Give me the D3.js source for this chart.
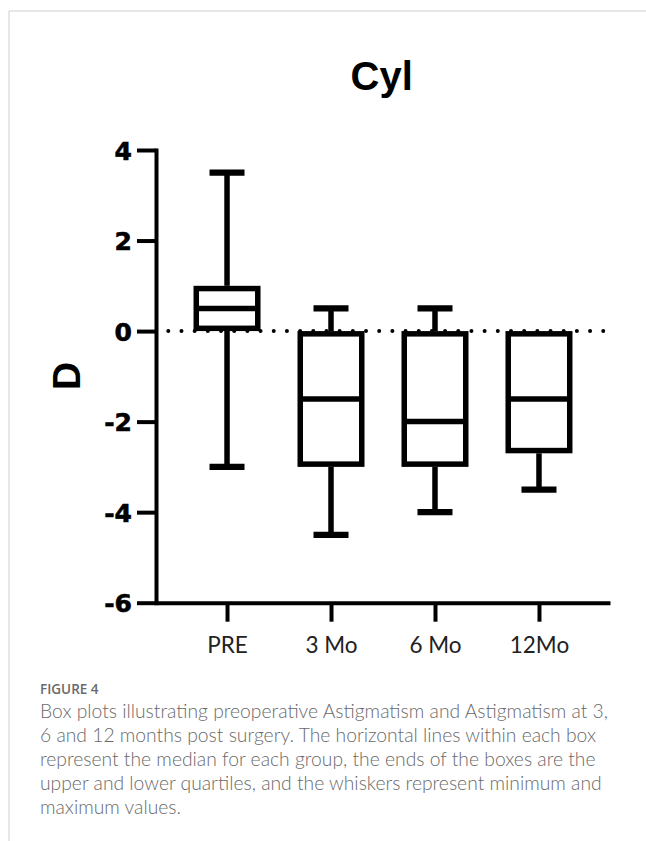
<!DOCTYPE html>
<html>
<head>
<meta charset="utf-8">
<script src="https://cdn.jsdelivr.net/npm/d3@7"></script>
<style>
  body { margin: 0; background: #fff; }
  svg { display: block; }
</style>
</head>
<body>
<div id="chart"></div>
<script>
// box plot values
const categories = ["PRE", "3 Mo", "6 Mo", "12Mo"];
const minVals = [-3, -4.5, -4, -3.5];
const q1Vals = [0, -3, -3, -2.7];
const medianVals = [0.5, -1.5, -2, -1.5];
const q3Vals = [1, 0, 0, 0];
const maxVals = [3.5, 0.5, 0.5, 0];
const yTicks = [-6, -4, -2, 0, 2, 4];

const captionLines = [
  "Box plots illustrating preoperative Astigmatism and Astigmatism at 3,",
  "6 and 12 months post surgery. The horizontal lines within each box",
  "represent the median for each group, the ends of the boxes are the",
  "upper and lower quartiles, and the whiskers represent minimum and",
  "maximum values."
];

const boxes = categories.map((c, i) => ({
  cat: c, min: minVals[i], q1: q1Vals[i], med: medianVals[i], q3: q3Vals[i], max: maxVals[i]
}));

const W = 646, H = 841;
const svg = d3.select("#chart").append("svg")
  .attr("width", W)
  .attr("height", H);

// page frame
svg.append("line").attr("x1", 9).attr("x2", W).attr("y1", 11).attr("y2", 11)
  .attr("stroke", "#cfcfcf").attr("stroke-width", 1);
svg.append("line").attr("x1", 9).attr("x2", 9).attr("y1", 11).attr("y2", H)
  .attr("stroke", "#cfcfcf").attr("stroke-width", 1);

const xScale = d3.scalePoint()
  .domain(categories)
  .range([156, 610])
  .padding(0.683)
  .align(0.5);

const yScale = d3.scaleLinear()
  .domain([-6, 4])
  .range([602.7, 150]);

const sw = 5.5;       // stroke width of boxes & whiskers
const boxW = 61.5;
const capW = 35;

// title
svg.append("text")
  .attr("x", 381.7)
  .attr("y", 90)
  .attr("text-anchor", "middle")
  .style("font-family", "'Liberation Sans', Arial, sans-serif")
  .style("font-weight", "bold")
  .style("font-size", "40px")
  .text("Cyl");

// y-axis label
svg.append("text")
  .attr("transform", "translate(80,376) rotate(-90)")
  .attr("text-anchor", "middle")
  .style("font-family", "'Liberation Sans', Arial, sans-serif")
  .style("font-weight", "bold")
  .style("font-size", "39px")
  .text("D");

// zero reference line (dotted)
svg.append("line")
  .attr("x1", 168.3)
  .attr("x2", 604)
  .attr("y1", yScale(0))
  .attr("y2", yScale(0))
  .attr("stroke", "#000")
  .attr("stroke-width", 4)
  .attr("stroke-linecap", "round")
  .attr("stroke-dasharray", "0 13.18");

// Y axis (plain hyphen for negatives, as in the original)
const yAxis = svg.append("g")
  .attr("transform", "translate(156,0)")
  .call(d3.axisLeft(yScale)
    .tickValues(yTicks)
    .tickFormat(d => String(d))
    .tickSize(19).tickSizeOuter(0).tickPadding(5));
yAxis.select(".domain").attr("stroke-width", 4).attr("stroke-linecap", "square");
yAxis.selectAll(".tick line").attr("stroke-width", 4);
yAxis.selectAll(".tick text")
  .attr("dy", "0.36em")
  .style("font-family", "'DejaVu Sans', sans-serif")
  .style("font-weight", "bold")
  .style("font-size", "25px")
  .attr("fill", "#000")
  .attr("stroke", "#000")
  .attr("stroke-width", 0.6);

// X axis
const xAxis = svg.append("g")
  .attr("transform", `translate(0,${yScale(-6)})`)
  .call(d3.axisBottom(xScale).tickSize(19).tickSizeOuter(0));
xAxis.select(".domain").attr("stroke-width", 4);
xAxis.selectAll(".tick line").attr("stroke-width", 4);
xAxis.selectAll(".tick text")
  .attr("y", 50)
  .attr("dy", 0)
  .style("font-family", "Lato, 'Open Sans', sans-serif")
  .style("font-size", "22.5px")
  .attr("fill", "#222");

// boxes
const g = svg.append("g").attr("class", "boxes");
const bx = g.selectAll("g.box").data(boxes).enter().append("g").attr("class", "box");

// whiskers (from box edge to cap)
bx.append("line")
  .attr("x1", d => xScale(d.cat)).attr("x2", d => xScale(d.cat))
  .attr("y1", d => yScale(d.q3)).attr("y2", d => yScale(d.max))
  .attr("stroke", "#000").attr("stroke-width", sw);
bx.append("line")
  .attr("x1", d => xScale(d.cat)).attr("x2", d => xScale(d.cat))
  .attr("y1", d => yScale(d.q1)).attr("y2", d => yScale(d.min))
  .attr("stroke", "#000").attr("stroke-width", sw);

// caps
bx.filter(d => d.max > d.q3).append("line")
  .attr("x1", d => xScale(d.cat) - capW / 2).attr("x2", d => xScale(d.cat) + capW / 2)
  .attr("y1", d => yScale(d.max)).attr("y2", d => yScale(d.max))
  .attr("stroke", "#000").attr("stroke-width", sw + 0.8);
bx.filter(d => d.min < d.q1).append("line")
  .attr("x1", d => xScale(d.cat) - capW / 2).attr("x2", d => xScale(d.cat) + capW / 2)
  .attr("y1", d => yScale(d.min)).attr("y2", d => yScale(d.min))
  .attr("stroke", "#000").attr("stroke-width", sw + 0.8);

// box body (stroke drawn inside the quartile range)
bx.append("rect")
  .attr("x", d => xScale(d.cat) - boxW / 2)
  .attr("y", d => yScale(d.q3) + sw / 2)
  .attr("width", boxW)
  .attr("height", d => yScale(d.q1) - yScale(d.q3) - sw)
  .attr("fill", "#fff")
  .attr("stroke", "#000")
  .attr("stroke-width", sw);

// median
bx.append("line")
  .attr("x1", d => xScale(d.cat) - boxW / 2).attr("x2", d => xScale(d.cat) + boxW / 2)
  .attr("y1", d => yScale(d.med)).attr("y2", d => yScale(d.med))
  .attr("stroke", "#000").attr("stroke-width", sw);

// caption
svg.append("text")
  .attr("x", 40)
  .attr("y", 694)
  .style("font-family", "'Open Sans', sans-serif")
  .style("font-weight", "600")
  .style("font-size", "13.5px")
  .attr("fill", "#6a6a6a")
  .text("FIGURE 4");

svg.append("g").selectAll("text")
  .data(captionLines)
  .enter().append("text")
  .attr("x", 40)
  .attr("y", (d, i) => 718 + i * 24)
  .style("font-family", "Lato, 'Open Sans', sans-serif")
  .style("font-weight", "300")
  .style("font-size", "19.3px")
  .attr("fill", "#6a6a6a")
  .text(d => d);
</script>
</body>
</html>
